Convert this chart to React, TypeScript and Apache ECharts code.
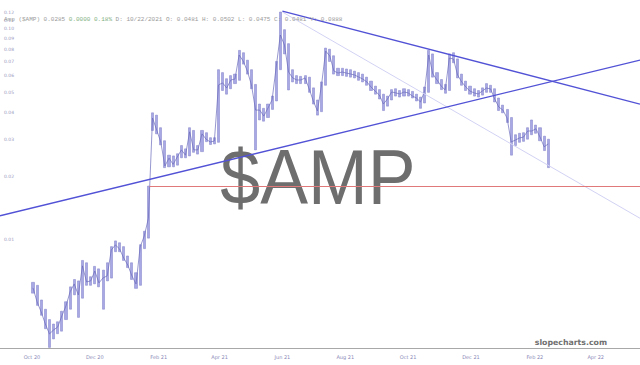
import React, { useEffect, useRef } from "react";
import * as echarts from "echarts";

// ---- data ----
const startDate = "2020-10-02";
const stepDays = 4;
const closes = [
  0.00593, 0.00509, 0.00456, 0.004, 0.00359, 0.00375, 0.00387, 0.00437, 0.00487, 0.00568,
  0.00619, 0.00549, 0.00754, 0.00633, 0.0064, 0.00713, 0.00626, 0.00661, 0.00676, 0.00897,
  0.00947, 0.00907, 0.00822, 0.00761, 0.00676, 0.00619, 0.00927, 0.01045, 0.01267, 0.0378,
  0.0332, 0.0291, 0.0224, 0.0244, 0.0228, 0.0247, 0.0267, 0.0252, 0.0325, 0.0267,
  0.0267, 0.0318, 0.03, 0.0291, 0.0294, 0.0542, 0.0554, 0.0524, 0.0572, 0.0578,
  0.0751, 0.0703, 0.0631, 0.0542, 0.0412, 0.0412, 0.0386, 0.0421, 0.046, 0.0659,
  0.0934, 0.0838, 0.0624, 0.0585, 0.0572, 0.0572, 0.0585, 0.0519, 0.0455, 0.0408,
  0.0542, 0.0784, 0.0743, 0.0631, 0.0617, 0.0624, 0.0617, 0.0611, 0.0604, 0.0591,
  0.0578, 0.056, 0.053, 0.0507, 0.0486, 0.044, 0.0465, 0.0502, 0.0497, 0.0491,
  0.0502, 0.0497, 0.0481, 0.047, 0.045, 0.0507, 0.0751, 0.0611, 0.0572, 0.0536,
  0.0513, 0.0727, 0.0719, 0.0604, 0.056, 0.053, 0.0507, 0.0497, 0.0491, 0.0507,
  0.0524, 0.0519, 0.0465, 0.0426, 0.0412, 0.0378, 0.0291, 0.0297, 0.0304, 0.0307,
  0.0328, 0.0328, 0.0336, 0.0307, 0.0276, 0.0285,
];
const highs = [
  0.0063, 0.0061, 0.0052, 0.0047, 0.0042, 0.004, 0.0041, 0.0046, 0.0051, 0.006,
  0.0065, 0.0064, 0.008, 0.0078, 0.0067, 0.0075, 0.0073, 0.0072, 0.0078, 0.0093,
  0.0099, 0.0097, 0.0093, 0.0084, 0.0078, 0.007, 0.0095, 0.011, 0.018, 0.04,
  0.039, 0.034, 0.0295, 0.0252, 0.025, 0.0256, 0.028, 0.027, 0.034, 0.033,
  0.028, 0.033, 0.0322, 0.0305, 0.0305, 0.064, 0.062, 0.058, 0.06, 0.061,
  0.079, 0.077, 0.071, 0.064, 0.0545, 0.044, 0.042, 0.044, 0.048, 0.07,
  0.12, 0.099, 0.085, 0.064, 0.06, 0.0595, 0.06, 0.059, 0.0525, 0.046,
  0.056, 0.081, 0.08, 0.0745, 0.065, 0.065, 0.0645, 0.064, 0.063, 0.062,
  0.061, 0.059, 0.0565, 0.0535, 0.0515, 0.049, 0.048, 0.0515, 0.052, 0.051,
  0.052, 0.0515, 0.0505, 0.049, 0.0475, 0.053, 0.079, 0.076, 0.062, 0.0575,
  0.0545, 0.076, 0.077, 0.072, 0.061, 0.0565, 0.0535, 0.052, 0.051, 0.0525,
  0.055, 0.054, 0.052, 0.047, 0.0435, 0.0415, 0.038, 0.0315, 0.032, 0.0322,
  0.034, 0.037, 0.035, 0.034, 0.031, 0.03,
];
const lows = [
  0.0056, 0.0049, 0.0044, 0.0038, 0.0031, 0.0034, 0.0036, 0.0037, 0.0042, 0.0047,
  0.0055, 0.0043, 0.0053, 0.0061, 0.0061, 0.0062, 0.006, 0.0047, 0.0064, 0.0066,
  0.0088, 0.0088, 0.008, 0.0074, 0.0065, 0.0059, 0.0061, 0.0091, 0.0102, 0.033,
  0.0318, 0.0282, 0.022, 0.0222, 0.0222, 0.0226, 0.0245, 0.0245, 0.025, 0.026,
  0.0255, 0.0262, 0.0292, 0.0283, 0.0285, 0.029, 0.051, 0.049, 0.052, 0.055,
  0.057, 0.068, 0.061, 0.052, 0.0267, 0.037, 0.0365, 0.038, 0.0415, 0.0455,
  0.064, 0.076, 0.0513, 0.056, 0.055, 0.055, 0.055, 0.05, 0.044, 0.039,
  0.0405, 0.054, 0.07, 0.061, 0.06, 0.06, 0.0595, 0.059, 0.0585, 0.057,
  0.056, 0.054, 0.051, 0.049, 0.0465, 0.041, 0.043, 0.046, 0.048, 0.0475,
  0.048, 0.048, 0.047, 0.0455, 0.042, 0.0445, 0.05, 0.059, 0.055, 0.0515,
  0.0495, 0.051, 0.069, 0.0585, 0.054, 0.051, 0.049, 0.048, 0.0475, 0.0485,
  0.05, 0.05, 0.045, 0.041, 0.04, 0.036, 0.0252, 0.028, 0.029, 0.0293,
  0.03, 0.0315, 0.032, 0.0295, 0.0265, 0.022,
];
const yTicks = [0.01, 0.02, 0.03, 0.04, 0.05, 0.06, 0.07, 0.08, 0.09, 0.1, 0.11, 0.12];
const xTicks = [
  "2020-10-01", "2020-12-01", "2021-02-01", "2021-04-01", "2021-06-01",
  "2021-08-01", "2021-10-01", "2021-12-01", "2022-02-01", "2022-04-01",
];
const xRange = ["2020-08-31", "2022-05-14"];
const yRange = [0.00308, 0.1368];
// drawn annotations: [date, price] endpoints
const supportLine: [string, number][] = [["2020-08-31", 0.01302], ["2022-05-14", 0.0711]];
const resistanceLine: [string, number][] = [["2021-06-01", 0.1213], ["2022-05-14", 0.044]];
const fadedLine: [string, number][] = [["2021-06-01", 0.12], ["2022-05-14", 0.01267]];
const levelLine: [string, number][] = [["2021-01-23", 0.018], ["2022-05-14", 0.018]];
const headerName = "Amp ($AMP)";
const headerLast = "0.0285";
const headerChange = "0.0000 0.18%";
const headerOhlc = "D: 10/22/2021 O: 0.0481 H: 0.0502 L: 0.0475 C: 0.0481 Y: 0.0888";
const watermark = "$AMP";
const site = "slopecharts.com";

const MONTHS = ["Jan", "Feb", "Mar", "Apr", "May", "Jun", "Jul", "Aug", "Sep", "Oct", "Nov", "Dec"];
const DAY = 86400000;
const toTs = (s: string) => {
  const [y, m, d] = s.split("-").map(Number);
  return Date.UTC(y, m - 1, d);
};

export default function App() {
  const ref = useRef<HTMLDivElement>(null);
  useEffect(() => {
    if (!ref.current) return;
    const chart = echarts.init(ref.current, undefined, { renderer: "svg" });
    const t0 = toTs(startDate);
    const dates = closes.map((_, i) => t0 + i * stepDays * DAY);
    const candles = closes.map((_, i) => [dates[i], lows[i], highs[i], lows[i], highs[i]]);
    const closeLine = closes.map((c, i) => [dates[i], c]);
    const seg = (l: [string, number][], color: string, width: number) => [
      { coord: [toTs(l[0][0]), l[0][1]], lineStyle: { color, width, type: "solid" } },
      { coord: [toTs(l[1][0]), l[1][1]] },
    ];
    chart.setOption({
      animation: false,
      backgroundColor: "#ffffff",
      grid: { left: 0, right: 0, top: 0, bottom: 17 },
      xAxis: {
        type: "value",
        min: toTs(xRange[0]),
        max: toTs(xRange[1]),
        scale: true,
        axisLine: { show: true, lineStyle: { color: "#a8a8a8", width: 1 } },
        axisTick: { show: false },
        splitLine: { show: false },
        axisLabel: {
          customValues: xTicks.map(toTs),
          formatter: (v: number) => {
            const d = new Date(v);
            return MONTHS[d.getUTCMonth()] + " " + String(d.getUTCFullYear()).slice(2);
          },
          fontSize: 5,
          color: "#8a8ab8",
          margin: 6,
          fontFamily: "DejaVu Sans",
        },
      },
      yAxis: {
        type: "log",
        logBase: 10,
        min: yRange[0],
        max: yRange[1],
        axisLine: { show: false },
        axisTick: { show: false },
        splitLine: { show: false },
        axisLabel: {
          inside: true,
          customValues: yTicks,
          formatter: (v: number) => Number(v).toFixed(2),
          fontSize: 4.5,
          color: "#9a9ac0",
          margin: 4,
          fontFamily: "DejaVu Sans",
        },
      },
      graphic: [
        {
          type: "text",
          z: 0,
          x: 318,
          y: 138,
          scaleX: 0.92,
          style: {
            text: watermark,
            x: 0,
            y: 0,
            textAlign: "center",
            textVerticalAlign: "top",
            fontSize: 78,
            fontFamily: "Liberation Sans",
            fill: "#6e6e6e",
          },
        },
        {
          type: "text",
          z: 10,
          right: 33,
          top: 338,
          style: {
            text: site,
            fontSize: 7.8,
            fontWeight: "bold",
            fontFamily: "DejaVu Sans",
            fill: "#707070",
          },
        },
        {
          type: "text",
          z: 10,
          left: 4,
          top: 16,
          style: {
            text: `{a|${headerName}} {a|${headerLast}} {b|${headerChange}} {a|${headerOhlc}}`,
            fontFamily: "Liberation Mono",
            fontSize: 6,
            fill: "#9a9a9a",
            rich: {
              a: { fontFamily: "Liberation Mono", fontSize: 6, fill: "#9a9a9a" },
              b: { fontFamily: "Liberation Mono", fontSize: 6, fill: "#7fb07f" },
            },
          },
        },
      ],
      series: [
        {
          type: "candlestick",
          data: candles,
          encode: { x: 0, y: [1, 2, 3, 4] },
          barWidth: 2.6,
          itemStyle: {
            color: "#a8a8e4",
            color0: "#a8a8e4",
            borderColor: "#7e7ec8",
            borderColor0: "#7e7ec8",
            borderWidth: 0.5,
          },
          z: 3,
        },
        {
          type: "line",
          data: closeLine,
          symbol: "none",
          lineStyle: { color: "#6a6abc", width: 0.7 },
          z: 4,
          markLine: {
            silent: true,
            symbol: ["none", "none"],
            label: { show: false },
            emphasis: { disabled: true },
            data: [
              seg(fadedLine, "#d2d2f4", 1),
              seg(levelLine, "#e07a7a", 1),
              seg(supportLine, "#5252d6", 1.3),
              seg(resistanceLine, "#5252d6", 1.3),
            ],
          },
        },
      ],
    });
    return () => chart.dispose();
  }, []);
  return (
    <div
      ref={ref}
      style={{ position: "fixed", left: 0, top: 0, width: 640, height: 365 }}
    />
  );
}
